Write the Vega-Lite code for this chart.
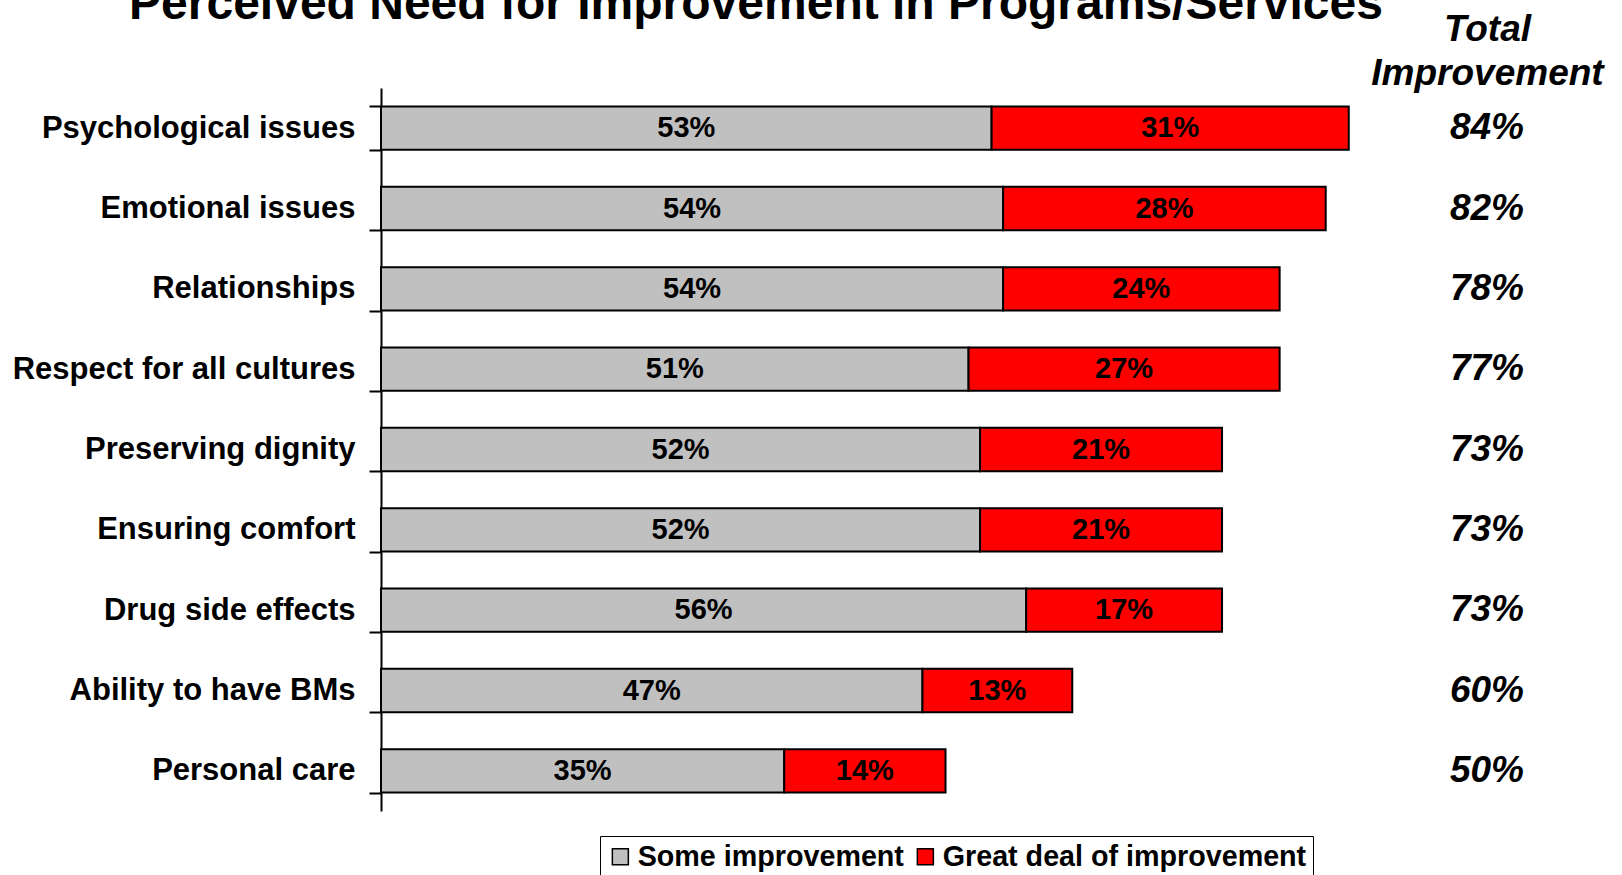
{
  "$schema": "https://vega.github.io/schema/vega-lite/v6.json",
  "autosize": {"type": "none"},
  "padding": {"left": 381, "top": 88, "right": 135, "bottom": 64},
  "width": 1106,
  "height": 723,
  "background": "white",
  "title": {
    "text": "Perceived Need for Improvement in Programs/Services",
    "font": "Liberation Sans",
    "fontSize": 48,
    "fontWeight": "bold",
    "color": "black",
    "anchor": "middle",
    "frame": "group",
    "dx": -178,
    "dy": 57,
    "baseline": "alphabetic",
    "offset": 0
  },
  "datasets": {
    "bars": [
      {"category": "Psychological issues", "level": "Some improvement", "value": 0.53},
      {"category": "Psychological issues", "level": "Great deal of improvement", "value": 0.31},
      {"category": "Emotional issues", "level": "Some improvement", "value": 0.54},
      {"category": "Emotional issues", "level": "Great deal of improvement", "value": 0.28},
      {"category": "Relationships", "level": "Some improvement", "value": 0.54},
      {"category": "Relationships", "level": "Great deal of improvement", "value": 0.24},
      {"category": "Respect for all cultures", "level": "Some improvement", "value": 0.51},
      {"category": "Respect for all cultures", "level": "Great deal of improvement", "value": 0.27},
      {"category": "Preserving dignity", "level": "Some improvement", "value": 0.52},
      {"category": "Preserving dignity", "level": "Great deal of improvement", "value": 0.21},
      {"category": "Ensuring comfort", "level": "Some improvement", "value": 0.52},
      {"category": "Ensuring comfort", "level": "Great deal of improvement", "value": 0.21},
      {"category": "Drug side effects", "level": "Some improvement", "value": 0.56},
      {"category": "Drug side effects", "level": "Great deal of improvement", "value": 0.17},
      {"category": "Ability to have BMs", "level": "Some improvement", "value": 0.47},
      {"category": "Ability to have BMs", "level": "Great deal of improvement", "value": 0.13},
      {"category": "Personal care", "level": "Some improvement", "value": 0.35},
      {"category": "Personal care", "level": "Great deal of improvement", "value": 0.14}
    ],
    "totals": [
      {"category": "Psychological issues", "total": 0.84},
      {"category": "Emotional issues", "total": 0.82},
      {"category": "Relationships", "total": 0.78},
      {"category": "Respect for all cultures", "total": 0.77},
      {"category": "Preserving dignity", "total": 0.73},
      {"category": "Ensuring comfort", "total": 0.73},
      {"category": "Drug side effects", "total": 0.73},
      {"category": "Ability to have BMs", "total": 0.60},
      {"category": "Personal care", "total": 0.50}
    ]
  },
  "encoding": {
    "y": {
      "field": "category",
      "type": "nominal",
      "sort": ["Psychological issues", "Emotional issues", "Relationships", "Respect for all cultures", "Preserving dignity", "Ensuring comfort", "Drug side effects", "Ability to have BMs", "Personal care"],
      "scale": {"paddingInner": 0.46, "paddingOuter": 0.23},
      "axis": {
        "title": null,
        "domainColor": "black",
        "domainWidth": 2,
        "tickColor": "black",
        "tickWidth": 2,
        "tickSize": 12,
        "tickBand": "extent",
        "labelPadding": 14,
        "labelFont": "Liberation Sans",
        "labelFontSize": 31,
        "labelFontWeight": "bold",
        "labelColor": "black",
        "labelLimit": 500
      }
    }
  },
  "layer": [
    {
      "data": {"name": "bars"},
      "mark": {"type": "bar", "stroke": "black", "strokeWidth": 2},
      "encoding": {
        "x": {
          "field": "value",
          "type": "quantitative",
          "stack": "zero",
          "scale": {"domain": [0, 0.96], "nice": false, "zero": true},
          "title": ["Total", "Improvement"],
          "axis": {
            "orient": "top",
            "labels": false,
            "ticks": false,
            "domain": false,
            "grid": false,
            "titleAnchor": "end",
            "titleAlign": "center",
            "titleBaseline": "bottom",
            "titleY": -40,
            "titleLineHeight": 44,
            "titlePadding": 0,
            "titleFont": "Liberation Sans",
            "titleFontSize": 37,
            "titleFontStyle": "italic",
            "titleFontWeight": "bold",
            "titleColor": "black"
          }
        },
        "color": {
          "field": "level",
          "type": "nominal",
          "scale": {"domain": ["Some improvement", "Great deal of improvement"], "range": ["#C0C0C0", "#FF0000"]},
          "legend": {
            "title": null,
            "orient": "none",
            "legendX": 219,
            "legendY": 748,
            "direction": "horizontal",
            "strokeColor": "black",
            "fillColor": "white",
            "padding": 6,
            "symbolType": "square",
            "symbolSize": 256,
            "symbolStrokeColor": "black",
            "symbolStrokeWidth": 1.5,
            "symbolOpacity": 1,
            "labelFont": "Liberation Sans",
            "labelFontSize": 28.7,
            "labelFontWeight": "bold",
            "labelColor": "black",
            "labelLimit": 1000,
            "labelOffset": 3,
            "columnPadding": 7
          }
        },
        "order": {"field": "level", "sort": "descending"}
      }
    },
    {
      "data": {"name": "bars"},
      "mark": {"type": "text", "font": "Liberation Sans", "fontSize": 29, "fontWeight": "bold", "color": "black", "align": "center", "baseline": "middle"},
      "encoding": {
        "x": {
          "field": "value",
          "type": "quantitative",
          "stack": "zero",
          "bandPosition": 0.5,
          "scale": {"domain": [0, 0.96], "nice": false, "zero": true},
          "title": ["Total", "Improvement"]
        },
        "detail": {"field": "level", "type": "nominal"},
        "order": {"field": "level", "sort": "descending"},
        "text": {"field": "value", "type": "quantitative", "format": ".0%"}
      }
    },
    {
      "data": {"name": "totals"},
      "mark": {"type": "text", "font": "Liberation Sans", "fontSize": 37, "fontWeight": "bold", "fontStyle": "italic", "color": "black", "align": "center", "baseline": "middle"},
      "encoding": {
        "x": {"datum": 0.96, "type": "quantitative", "scale": {"domain": [0, 0.96], "nice": false, "zero": true}, "title": ["Total", "Improvement"]},
        "text": {"field": "total", "type": "quantitative", "format": ".0%"}
      }
    }
  ],
  "config": {
    "view": {"stroke": null}
  }
}
